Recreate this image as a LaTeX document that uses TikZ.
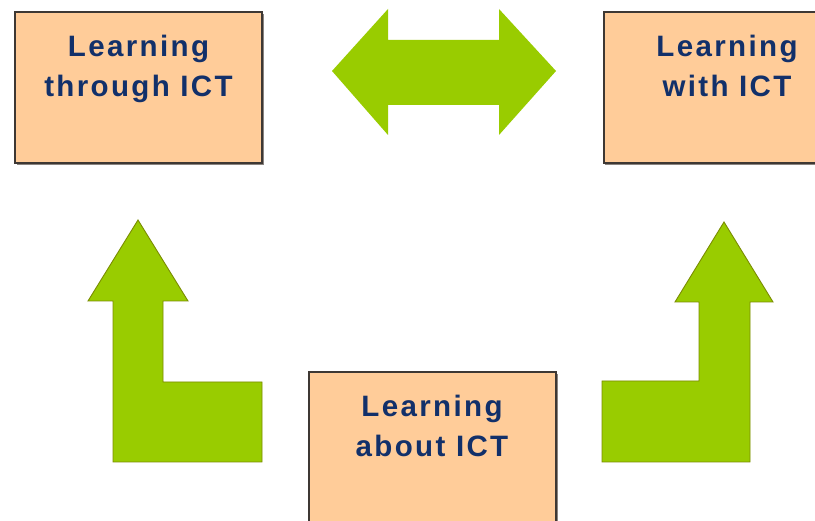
\documentclass[tikz,border=0pt]{standalone}
\usepackage{fontspec}
\newfontfamily\lblfont{Liberation Sans}[LetterSpace=8]
\definecolor{peach}{HTML}{FFCC99}
\definecolor{boxline}{HTML}{3E3834}
\definecolor{shadowc}{HTML}{8A8480}
\definecolor{txtblue}{HTML}{12306A}
\definecolor{lime}{HTML}{99CC00}
\definecolor{olive}{HTML}{7A8C00}
\tikzset{
  ictbox/.style={draw=boxline, line width=2pt, fill=peach, rectangle, inner sep=0pt,
    minimum width=247pt, minimum height=151pt},
  ictshadow/.style={fill=shadowc, draw=none},
  ictlabel/.style={anchor=north, inner sep=0pt, align=center, text=txtblue,
    font=\lblfont\bfseries\fontsize{29.5}{40.5}\selectfont},
  bendarrow/.style={fill=lime, draw=olive, line width=0.9pt, line join=miter},
  dblarrow/.style={fill=lime, draw=none}
}
\begin{document}
\begin{tikzpicture}[x=1pt,y=-1pt]
\useasboundingbox (0,0) rectangle (815,521);
\clip (0,0) rectangle (815,521);
\fill[white] (0,0) rectangle (815,521);
% shadows
\fill[ictshadow] (17,14) rectangle (264,165);
\fill[ictshadow] (605,14) rectangle (852,165);
\fill[ictshadow] (311,374) rectangle (558,526);
% boxes
\node[ictbox] (through) at (138.5,87.5) {};
\node[ictbox] (with) at (727,87.5) {};
\node[ictbox] (about) at (432,447.5) {};
% labels
\node[ictlabel] (throughT) at (138.5,34.5) {Learning\\through ICT};
\node[ictlabel] (withT) at (727,34.5) {Learning\\with ICT};
\node[ictlabel] (aboutT) at (432,394.5) {Learning\\about ICT};
% double arrow between top boxes
\fill[dblarrow] (332,71) -- (388,9) -- (388,40) -- (499,40) -- (499,9) -- (556,71)
  -- (499,135) -- (499,105) -- (388,105) -- (388,135) -- cycle;
% left bent arrow
\filldraw[bendarrow] (138,220) -- (188,301) -- (163,301) -- (163,382) -- (262,382)
  -- (262,462) -- (113,462) -- (113,301) -- (88,301) -- cycle;
% right bent arrow
\filldraw[bendarrow] (724,222) -- (773,302) -- (750,302) -- (750,462) -- (602,462)
  -- (602,381) -- (699,381) -- (699,302) -- (675,302) -- cycle;
\end{tikzpicture}
\end{document}
